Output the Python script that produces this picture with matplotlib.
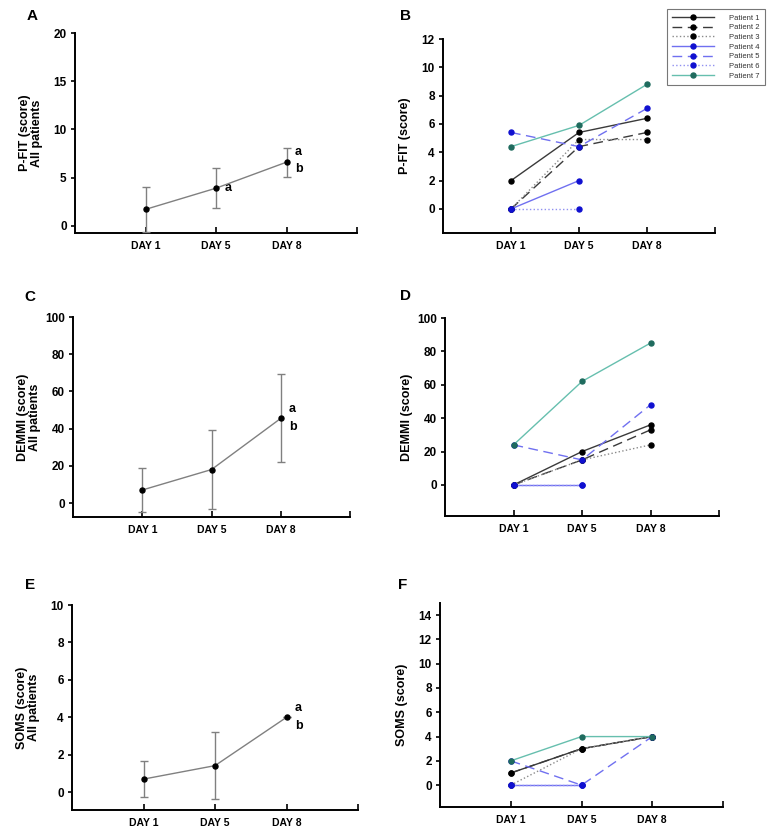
import numpy as np
import matplotlib.pyplot as plt
from matplotlib.lines import Line2D

plt.rcParams['font.family'] = ['Liberation Sans', 'DejaVu Sans']

days = ["DAY 1", "DAY 5", "DAY 8"]
patients = ["Patient 1", "Patient 2", "Patient 3", "Patient 4", "Patient 5", "Patient 6", "Patient 7"]

# group means and error bars (all patients)
pfit_mean = [1.7, 3.9, 6.6]
pfit_err = [2.3, 2.1, 1.5]
demmi_mean = [7.0, 18.0, 45.5]
demmi_err = [11.6, 21.0, 23.7]
soms_mean = [0.7, 1.42, 4.0]
soms_err = [0.95, 1.8, 0.0]

# individual patients (nan = missing)
nan = np.nan
pfit_pat = [
    [2.0, 5.4, 6.4],
    [0.0, 4.4, 5.4],
    [0.0, 4.9, 4.9],
    [0.0, 2.0, nan],
    [5.4, 4.4, 7.1],
    [0.0, 0.0, nan],
    [4.4, 5.9, 8.8],
]
demmi_pat = [
    [0.0, 20.0, 36.0],
    [0.0, 15.0, 33.0],
    [0.0, 15.0, 24.0],
    [0.0, 0.0, nan],
    [24.0, 15.0, 48.0],
    [0.0, 0.0, nan],
    [24.0, 62.0, 85.0],
]
soms_pat = [
    [1.0, 3.0, 4.0],
    [1.0, 3.0, 4.0],
    [0.0, 3.0, 4.0],
    [0.0, 0.0, nan],
    [2.0, 0.0, 4.0],
    [0.0, 0.0, nan],
    [2.0, 4.0, 4.0],
]

line_cols = ["#3a3a3a", "#3a3a3a", "#8a8a8a", "#7070f0", "#7070f0", "#9090f0", "#66bfae"]
mark_cols = ["black", "black", "black", "#1010d0", "#1010d0", "#1010d0", "#1f6b5e"]
styles = ["-", (0, (7, 4)), ":", "-", (0, (7, 4)), ":", "-"]

fig = plt.figure(figsize=(7.67, 8.34), dpi=100)
W, H = 767, 834


def px_axes(l, r, t, b):
    ax = fig.add_axes([l / W, 1 - b / H, (r - l) / W, (b - t) / H])
    ax.px_width = r - l
    return ax


def style_axes(ax, ylim, yticks, ylabel):
    x = np.arange(1, 4)
    ax.set_xlim(0, 4)
    ax.set_ylim(*ylim)
    ax.set_yticks(yticks)
    ax.set_xticks([1, 2, 3, 4])
    ax.set_xticklabels(days + [""], fontweight='bold', fontsize=7.5)
    for t in ax.get_yticklabels():
        t.set_fontweight('bold')
        t.set_fontsize(8.5)
    ax.spines['top'].set_visible(False)
    ax.spines['right'].set_visible(False)
    ax.spines['left'].set_linewidth(1.4)
    ax.spines['bottom'].set_linewidth(1.4)
    ax.tick_params(axis='y', direction='out', length=3, width=1.2, pad=3)
    ax.tick_params(axis='x', direction='in', length=4, width=1.2, pad=6)
    ax.set_ylabel(ylabel, fontweight='bold', fontsize=9, linespacing=1.0)
    ax.yaxis.set_label_coords(-32 / ax.px_width, 0.5)
    return x


def group_panel(ax, mean, err, ylim, yticks, ylabel, marks):
    x = style_axes(ax, ylim, yticks, ylabel)
    ax.errorbar(x, mean, yerr=err, color='#808080', lw=1.0, capsize=3,
                elinewidth=1.0, capthick=1.0, marker='o', ms=3.6,
                mfc='black', mec='black', zorder=3, clip_on=False)
    for i, txt, dy in marks:
        ax.annotate(txt, (x[i], mean[i]), xytext=(6, dy), textcoords='offset points',
                    fontweight='bold', fontsize=9, va='center')


def patient_panel(ax, data, ylim, yticks, ylabel):
    x = style_axes(ax, ylim, yticks, ylabel)
    for k, vals in enumerate(data):
        ax.plot(x, vals, color=line_cols[k], ls=styles[k], lw=1.0, marker='o', ms=3.6,
                mfc=mark_cols[k], mec=mark_cols[k], zorder=3)


axA = px_axes(75, 357, 33, 233)
group_panel(axA, pfit_mean, pfit_err, (-0.75, 20), [0, 5, 10, 15, 20],
            "P-FIT (score)\nAll patients", [(1, "a", 0), (2, "a", 7), (2, "b", -5)])
axB = px_axes(443, 715, 39, 233)
patient_panel(axB, pfit_pat, (-1.7, 12), [0, 2, 4, 6, 8, 10, 12], "P-FIT (score)")

axC = px_axes(73, 350, 317, 517)
group_panel(axC, demmi_mean, demmi_err, (-7.5, 100), [0, 20, 40, 60, 80, 100],
            "DEMMI (score)\nAll patients", [(2, "a", 7), (2, "b", -6)])
axD = px_axes(445, 719, 318, 516)
patient_panel(axD, demmi_pat, (-18.6, 100), [0, 20, 40, 60, 80, 100], "DEMMI (score)")

axE = px_axes(72, 358, 605, 810)
group_panel(axE, soms_mean, soms_err, (-0.95, 10), [0, 2, 4, 6, 8, 10],
            "SOMS (score)\nAll patients", [(2, "a", 7), (2, "b", -6)])
axF = px_axes(440, 723, 603, 807)
patient_panel(axF, soms_pat, (-1.8, 15), [0, 2, 4, 6, 8, 10, 12, 14], "SOMS (score)")

for txt, px, py in [("A", 32, 16), ("B", 406, 16), ("C", 30, 297),
                    ("D", 406, 296), ("E", 30, 585), ("F", 403, 585)]:
    fig.text(px / W, 1 - py / H, txt, fontweight='bold', fontsize=11, va='center', ha='center')

handles = [Line2D([], [], color=line_cols[k], ls=styles[k], lw=1.0, marker='o', ms=3.6,
                  mfc=mark_cols[k], mec=mark_cols[k]) for k in range(len(patients))]
leg = fig.legend(handles, patients, loc='upper right', bbox_to_anchor=(765 / W, 1 - 9 / H),
                 fontsize=5.5, handlelength=5.5, frameon=True, fancybox=False,
                 edgecolor='#555555', borderpad=0.7, labelspacing=0.3, handletextpad=2.0,
                 borderaxespad=0)
leg.get_frame().set_linewidth(0.8)
for t in leg.get_texts():
    t.set_color('#333333')

fig.savefig("out.png", dpi=100)
